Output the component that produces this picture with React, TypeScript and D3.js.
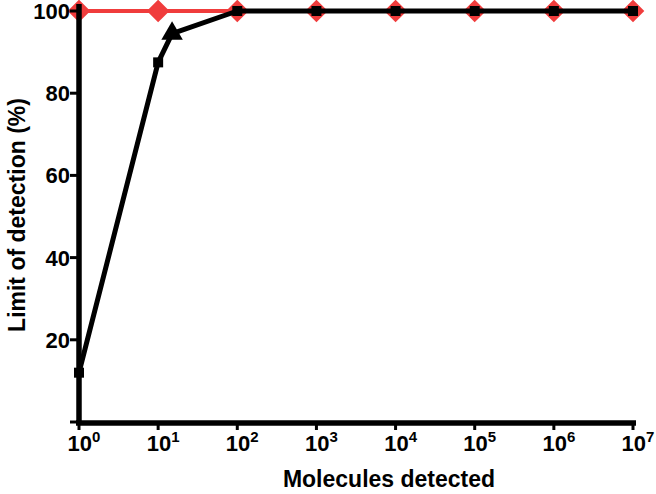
import React from "react";
import * as d3 from "d3";

const exponents = [0, 1, 2, 3, 4, 5, 6, 7];
const yTicks = [20, 40, 60, 80, 100];

// red series: 100% at every decade
const redX = [1, 10, 100, 1e3, 1e4, 1e5, 1e6, 1e7];
const redY = [100, 100, 100, 100, 100, 100, 100, 100];

// black series
const blackX = [1, 10, 15, 100, 1e3, 1e4, 1e5, 1e6, 1e7];
const blackY = [12, 87.5, 94.5, 100, 100, 100, 100, 100, 100];

const W = 656;
const H = 494;
const FONT = "'Liberation Sans', Arial, sans-serif";

const App = () => {
  const x = d3.scaleLog().domain([1, 1e7]).range([79, 633]);
  const y = d3.scaleLinear().domain([0, 100]).range([422, 11]);

  const line = d3
    .line<[number, number]>()
    .x((d) => x(d[0]))
    .y((d) => y(d[1]));

  const red: [number, number][] = redX.map((v, i) => [v, redY[i]]);
  const black: [number, number][] = blackX.map((v, i) => [v, blackY[i]]);

  return (
    <svg
      width={W}
      height={H}
      style={{ position: "absolute", left: 0, top: 0 }}
      fontFamily={FONT}
      fontWeight="bold"
    >
      {/* red line and diamonds */}
      <path d={line(red) || ""} fill="none" stroke="#f03c3c" strokeWidth={4} />
      {red.map((d, i) => (
        <rect
          key={"r" + i}
          x={-8}
          y={-8}
          width={16}
          height={16}
          fill="#f03c3c"
          transform={`translate(${x(d[0])},${y(d[1])}) rotate(45)`}
        />
      ))}

      {/* black line and markers */}
      <path
        d={line(black) || ""}
        fill="none"
        stroke="#000"
        strokeWidth={5}
        strokeLinejoin="round"
      />
      {black.map((d, i) =>
        i === 2 ? (
          <path
            key={"b" + i}
            d={d3.symbol(d3.symbolTriangle, 200)() || ""}
            transform={`translate(${x(d[0])},${y(d[1])})`}
            fill="#000"
          />
        ) : (
          <rect
            key={"b" + i}
            x={x(d[0]) - 5}
            y={y(d[1]) - 5}
            width={10}
            height={10}
            fill="#000"
          />
        )
      )}

      {/* y axis */}
      <line x1={79} x2={79} y1={4} y2={425} stroke="#000" strokeWidth={5.5} />
      {[0, ...yTicks].map((t) => (
        <line
          key={"yt" + t}
          x1={70}
          x2={79}
          y1={y(t)}
          y2={y(t)}
          stroke="#000"
          strokeWidth={3}
        />
      ))}
      {yTicks.map((t) => (
        <text
          key={"yl" + t}
          x={70}
          y={y(t)}
          dy="0.36em"
          textAnchor="end"
          fontSize={22}
        >
          {t}
        </text>
      ))}

      {/* x axis */}
      <line x1={76} x2={636} y1={423} y2={423} stroke="#000" strokeWidth={5.5} />
      {exponents.map((e) => (
        <line
          key={"xt" + e}
          x1={x(Math.pow(10, e))}
          x2={x(Math.pow(10, e))}
          y1={423}
          y2={430}
          stroke="#000"
          strokeWidth={3}
        />
      ))}
      {exponents.map((e) => (
        <text
          key={"xl" + e}
          x={x(Math.pow(10, e)) + 5}
          y={451}
          textAnchor="middle"
          fontSize={22}
        >
          10
          <tspan dy={-9} fontSize={15}>
            {e}
          </tspan>
        </text>
      ))}

      {/* titles */}
      <text x={389} y={487} textAnchor="middle" fontSize={23}>
        Molecules detected
      </text>
      <text
        transform="translate(25,215) rotate(-90)"
        textAnchor="middle"
        fontSize={23}
      >
        Limit of detection (%)
      </text>
    </svg>
  );
};

export default App;
